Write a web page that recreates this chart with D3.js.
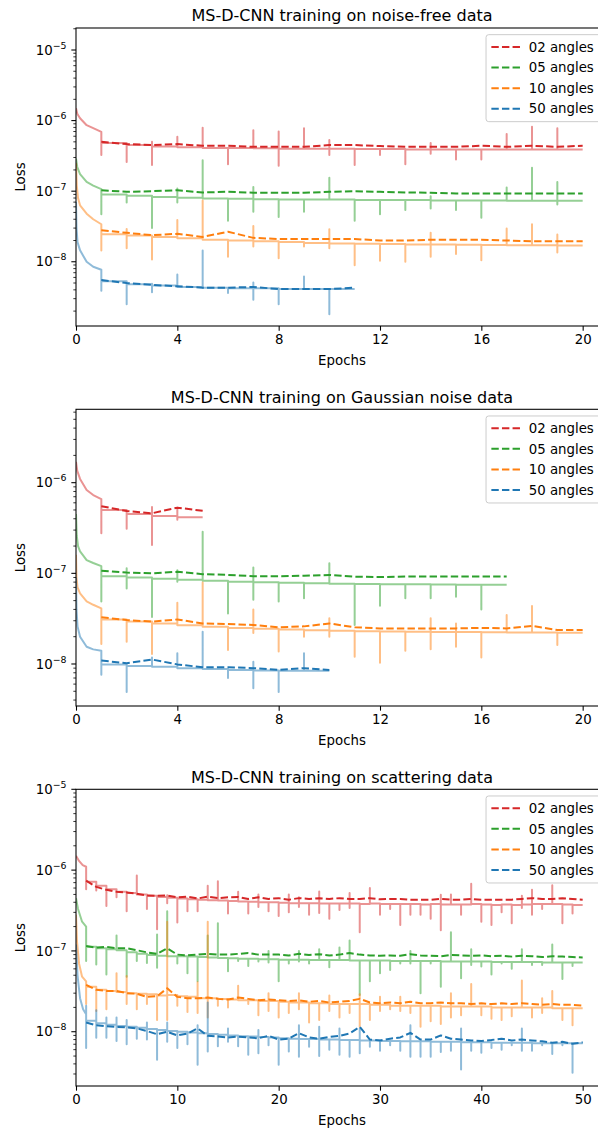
<!DOCTYPE html>
<html>
<head>
<meta charset="utf-8">
<script src="https://cdn.jsdelivr.net/npm/d3@7"></script>
<style>
  body { margin: 0; background: #fff; }
  svg { display: block; font-family: "DejaVu Sans", sans-serif; }
</style>
</head>
<body>
<div id="chart"></div>
<script>
// ============================================
// 데이터
// ============================================
const seriesLabels = ['02 angles', '05 angles', '10 angles', '50 angles'];
const seriesColors = ['#d62728', '#2ca02c', '#ff7f0e', '#1f77b4'];

const panelTitles = [
    'MS-D-CNN training on noise-free data',
    'MS-D-CNN training on Gaussian noise data',
    'MS-D-CNN training on scattering data'
];
const panelXTicks = [[0, 4, 8, 12, 16, 20], [0, 4, 8, 12, 16, 20], [0, 10, 20, 30, 40, 50]];
const panelXMax = [21, 21, 52.5];
const panelYDomain = [[1.23e-9, 2.05e-5], [3.44e-9, 6.45e-6], [2.13e-9, 1e-5]];

// --- noise-free: [red, green, orange, blue]
// decay = 첫 epoch 곡선 [epoch, loss], level = epoch k..k+1 학습 손실, spike = epoch 시작 배치 값, val = 검증 손실
const nfDecay = [
    [[0, 1.5e-6], [0.05, 1.25e-6], [0.16, 1.08e-6], [0.42, 8.6e-7], [0.68, 7.8e-7], [1, 6.9e-7]],
    [[0, 2.9e-7], [0.05, 2.2e-7], [0.16, 1.75e-7], [0.42, 1.35e-7], [0.68, 1.2e-7], [1, 1.07e-7]],
    [[0, 2.5e-7], [0.03, 1.2e-7], [0.08, 8e-8], [0.16, 6.3e-8], [0.42, 4.8e-8], [0.68, 4.0e-8], [1, 3.4e-8]],
    [[0, 7e-8], [0.02, 3e-8], [0.06, 1.9e-8], [0.16, 1.45e-8], [0.42, 1.0e-8], [0.68, 8.5e-9], [1, 7.7e-9]]
];
const nfLevel = [
    [4.8e-7, 4.5e-7, 4.3e-7, 4.2e-7, 4.1e-7, 4.1e-7, 4.05e-7, 4.0e-7, 4.0e-7, 4.0e-7, 3.95e-7, 3.95e-7, 3.9e-7, 3.9e-7, 3.9e-7, 3.9e-7, 3.9e-7, 3.9e-7, 3.9e-7],
    [9.0e-8, 8.6e-8, 8.3e-8, 8.1e-8, 7.9e-8, 7.8e-8, 7.7e-8, 7.6e-8, 7.6e-8, 7.6e-8, 7.5e-8, 7.5e-8, 7.5e-8, 7.4e-8, 7.4e-8, 7.4e-8, 7.3e-8, 7.3e-8, 7.3e-8],
    [2.45e-8, 2.35e-8, 2.25e-8, 2.15e-8, 2.05e-8, 2.0e-8, 1.95e-8, 1.9e-8, 1.85e-8, 1.82e-8, 1.8e-8, 1.78e-8, 1.76e-8, 1.75e-8, 1.74e-8, 1.73e-8, 1.72e-8, 1.72e-8, 1.7e-8],
    [5.3e-9, 4.8e-9, 4.6e-9, 4.4e-9, 4.3e-9, 4.2e-9, 4.2e-9, 4.1e-9, 4.1e-9, 4.1e-9]
];
const nfSpike = [
    [3.25e-7, 2.6e-7, [5.0e-7, 2.35e-7], 5.9e-7, 7.9e-7, 2.4e-7, 7.3e-7, [7.0e-7, 2.3e-7], 7.8e-7, [5.3e-7, 3.25e-7], 2.35e-7, 3.25e-7, 2.4e-7, [4.8e-7, 3.4e-7], 2.8e-7, 2.8e-7, 6.45e-7, 8.2e-7, 7.8e-7],
    [4.7e-8, 6.9e-8, 3.0e-8, [1.09e-7, 6.9e-8], 2.75e-7, 3.8e-8, [1.15e-7, 5.1e-8], 4.3e-8, 5.1e-8, 1.55e-7, 3.8e-8, 4.7e-8, 5.4e-8, [8.5e-8, 5.7e-8], 5.4e-8, 4.2e-8, 1.13e-7, 2.14e-7, [1.35e-7, 6.5e-8]],
    [1.44e-8, [2.9e-8, 1.56e-8], 1.08e-8, 3.9e-8, 7.4e-8, 1.18e-8, [3.2e-8, 1.65e-8], 1.12e-8, 1.65e-8, [2.88e-8, 1.56e-8], 8.9e-9, 1.03e-8, 1.0e-8, [2.57e-8, 1.18e-8], 1.29e-8, 1.05e-8, 2.97e-8, 3.4e-8, [2.43e-8, 1.35e-8]],
    [3.9e-9, 2.5e-9, [4.9e-9, 3.7e-9], 6.6e-9, 1.44e-8, 3.6e-9, [5.1e-9, 2.9e-9], 2.5e-9, 6.2e-9, 1.8e-9]
];
const nfVal = [
    [5.0e-7, 4.65e-7, 4.5e-7, 4.65e-7, 4.4e-7, 4.4e-7, 4.25e-7, 4.25e-7, 4.25e-7, 4.5e-7, 4.5e-7, 4.35e-7, 4.25e-7, 4.25e-7, 4.25e-7, 4.4e-7, 4.25e-7, 4.4e-7, 4.25e-7, 4.4e-7],
    [1.03e-7, 9.8e-8, 1.0e-7, 1.03e-7, 9.6e-8, 9.8e-8, 9.5e-8, 9.5e-8, 9.5e-8, 9.8e-8, 1.0e-7, 9.8e-8, 9.6e-8, 9.5e-8, 9.3e-8, 9.3e-8, 9.3e-8, 9.3e-8, 9.3e-8, 9.3e-8],
    [2.8e-8, 2.57e-8, 2.38e-8, 2.49e-8, 2.25e-8, 2.66e-8, 2.18e-8, 2.1e-8, 2.1e-8, 2.1e-8, 2.1e-8, 2.0e-8, 2.0e-8, 2.05e-8, 2.05e-8, 2.05e-8, 2.0e-8, 1.95e-8, 1.95e-8, 1.95e-8],
    [5.5e-9, 5.0e-9, 4.7e-9, 4.5e-9, 4.3e-9, 4.3e-9, 4.4e-9, 4.1e-9, 4.1e-9, 4.1e-9, 4.3e-9]
];

// --- Gaussian noise
const gnDecay = [
    [[0, 1.7e-6], [0.05, 1.35e-6], [0.16, 1.1e-6], [0.42, 8.3e-7], [0.68, 7.3e-7], [1, 6.6e-7]],
    [[0, 4.5e-7], [0.03, 2.6e-7], [0.08, 2.0e-7], [0.16, 1.75e-7], [0.42, 1.4e-7], [0.68, 1.3e-7], [1, 1.2e-7]],
    [[0, 1.6e-7], [0.02, 9e-8], [0.06, 7e-8], [0.16, 6e-8], [0.42, 4.9e-8], [0.68, 4.5e-8], [1, 4.1e-8]],
    [[0, 9e-8], [0.02, 4e-8], [0.06, 2.6e-8], [0.16, 2.0e-8], [0.42, 1.55e-8], [0.68, 1.45e-8], [1, 1.4e-8]]
];
const gnLevel = [
    [5.0e-7, 4.5e-7, 4.3e-7, 4.15e-7],
    [9.3e-8, 9.0e-8, 8.7e-8, 8.5e-8, 8.3e-8, 8.1e-8, 7.95e-8, 7.85e-8, 7.75e-8, 7.7e-8, 7.65e-8, 7.6e-8, 7.6e-8, 7.55e-8, 7.5e-8, 7.5e-8],
    [3.1e-8, 2.95e-8, 2.8e-8, 2.68e-8, 2.58e-8, 2.5e-8, 2.45e-8, 2.4e-8, 2.36e-8, 2.33e-8, 2.3e-8, 2.28e-8, 2.27e-8, 2.26e-8, 2.25e-8, 2.24e-8, 2.23e-8, 2.22e-8, 2.21e-8],
    [9.9e-9, 9.5e-9, 9.3e-9, 9.0e-9, 8.8e-9, 8.6e-9, 8.5e-9, 8.4e-9, 8.4e-9]
];
const gnSpike = [
    [2.76e-7, 3.1e-7, [5.4e-7, 2.05e-7], [5.3e-7, 3.9e-7]],
    [4.9e-8, [1.14e-7, 6.8e-8], 3.3e-8, [1.08e-7, 8.1e-8], 2.88e-7, 3.6e-8, [1.16e-7, 5.1e-8], 4.9e-8, 5.3e-8, 1.29e-7, 2.7e-8, 4.4e-8, 5.3e-8, 5.3e-8, 5.5e-8, 4.0e-8],
    [1.66e-8, 1.76e-8, 1.29e-8, 4.75e-8, 7.9e-8, 1.43e-8, [4.0e-8, 2.2e-8], 1.37e-8, 2.0e-8, [3.2e-8, 2.0e-8], 1.2e-8, 1.03e-8, 1.4e-8, [3.2e-8, 1.45e-8], [2.8e-8, 1.55e-8], 1.18e-8, 3.47e-8, 4.36e-8, 1.62e-8],
    [7.6e-9, 4.9e-9, 1.18e-8, 1.31e-8, 2.27e-8, 7.0e-9, [1.06e-8, 5.4e-9], 4.9e-9, 1.31e-8]
];
const gnVal = [
    [5.5e-7, 4.87e-7, 4.6e-7, 5.3e-7, 4.9e-7],
    [1.07e-7, 1.02e-7, 1.0e-7, 1.04e-7, 9.8e-8, 9.6e-8, 9.3e-8, 9.3e-8, 9.4e-8, 9.6e-8, 9.2e-8, 9.1e-8, 9.2e-8, 9.2e-8, 9.2e-8, 9.2e-8, 9.2e-8],
    [3.27e-8, 3.06e-8, 2.93e-8, 3.1e-8, 2.8e-8, 2.76e-8, 2.7e-8, 2.54e-8, 2.6e-8, 2.8e-8, 2.54e-8, 2.47e-8, 2.47e-8, 2.47e-8, 2.47e-8, 2.5e-8, 2.47e-8, 2.63e-8, 2.37e-8, 2.37e-8],
    [1.09e-8, 1.02e-8, 1.12e-8, 9.9e-9, 9.2e-9, 9.2e-9, 9.0e-9, 8.6e-9, 9.0e-9, 8.6e-9]
];

// --- scattering
const scDecay = [
    [[0, 1.5e-6], [0.3, 1.3e-6], [0.66, 1.15e-6], [1, 1.1e-6]],
    [[0, 4.5e-7], [0.2, 3.3e-7], [0.6, 2.3e-7], [1, 2.0e-7]],
    [[0, 2.8e-7], [0.1, 1.3e-7], [0.3, 7e-8], [0.6, 4.8e-8], [1, 4.2e-8]],
    [[0, 1.2e-7], [0.15, 5e-8], [0.4, 2.6e-8], [0.7, 1.9e-8], [1, 1.65e-8]]
];
const scLevel = [
    [7.2e-7, 6.4e-7, 5.8e-7, 5.4e-7, 5.2e-7, 5.0e-7, 4.8e-7, 4.65e-7, 4.55e-7, 4.45e-7,
     4.35e-7, 4.3e-7, 4.25e-7, 4.2e-7, 4.15e-7, 4.1e-7, 4.05e-7, 4.0e-7, 4.0e-7, 3.95e-7,
     3.9e-7, 3.9e-7, 3.9e-7, 3.85e-7, 3.85e-7, 3.85e-7, 3.85e-7, 3.8e-7, 3.85e-7, 3.8e-7,
     3.8e-7, 3.8e-7, 3.8e-7, 3.75e-7, 3.8e-7, 3.75e-7, 3.75e-7, 3.75e-7, 3.8e-7, 3.75e-7,
     3.7e-7, 3.75e-7, 3.7e-7, 3.75e-7, 3.8e-7, 3.8e-7, 3.8e-7, 3.75e-7, 3.7e-7],
    [1.13e-7, 1.08e-7, 1.05e-7, 1.02e-7, 9.6e-8, 9.2e-8, 8.9e-8, 8.7e-8, 8.6e-8, 8.6e-8,
     8.5e-8, 8.4e-8, 8.3e-8, 8.2e-8, 8.1e-8, 8.0e-8, 8.0e-8, 7.9e-8, 7.9e-8, 7.8e-8,
     7.8e-8, 7.8e-8, 7.7e-8, 7.7e-8, 7.7e-8, 7.7e-8, 7.6e-8, 7.6e-8, 7.6e-8, 7.6e-8,
     7.5e-8, 7.5e-8, 7.5e-8, 7.5e-8, 7.5e-8, 7.4e-8, 7.4e-8, 7.4e-8, 7.4e-8, 7.4e-8,
     7.3e-8, 7.3e-8, 7.3e-8, 7.3e-8, 7.3e-8, 7.2e-8, 7.2e-8, 7.2e-8, 7.2e-8],
    [3.6e-8, 3.3e-8, 3.2e-8, 3.1e-8, 3.0e-8, 2.95e-8, 2.9e-8, 2.8e-8, 2.85e-8, 2.75e-8,
     2.7e-8, 2.6e-8, 2.6e-8, 2.55e-8, 2.5e-8, 2.45e-8, 2.45e-8, 2.4e-8, 2.4e-8, 2.35e-8,
     2.3e-8, 2.3e-8, 2.25e-8, 2.25e-8, 2.2e-8, 2.2e-8, 2.2e-8, 2.2e-8, 2.15e-8, 2.15e-8,
     2.1e-8, 2.1e-8, 2.1e-8, 2.1e-8, 2.1e-8, 2.05e-8, 2.05e-8, 2.05e-8, 2.05e-8, 2.05e-8,
     2.0e-8, 2.0e-8, 2.0e-8, 2.0e-8, 2.0e-8, 2.0e-8, 1.95e-8, 1.95e-8, 1.95e-8],
    [1.37e-8, 1.27e-8, 1.22e-8, 1.18e-8, 1.15e-8, 1.12e-8, 1.08e-8, 1.05e-8, 1.02e-8, 1.0e-8,
     9.8e-9, 9.6e-9, 9.4e-9, 9.2e-9, 9.0e-9, 8.8e-9, 8.7e-9, 8.6e-9, 8.5e-9, 8.3e-9,
     8.2e-9, 8.1e-9, 8.1e-9, 8.0e-9, 8.0e-9, 7.9e-9, 7.9e-9, 7.8e-9, 7.8e-9, 7.7e-9,
     7.7e-9, 7.6e-9, 7.6e-9, 7.6e-9, 7.5e-9, 7.5e-9, 7.5e-9, 7.4e-9, 7.4e-9, 7.4e-9,
     7.3e-9, 7.3e-9, 7.3e-9, 7.3e-9, 7.2e-9, 7.2e-9, 7.2e-9, 7.2e-9, 7.2e-9]
];
const scSpike = [
    [5.8e-7, 5.6e-7, 3.6e-7, 4.6e-7, 3.1e-7, 8.6e-7, 3.3e-7, 1.85e-7, [4.9e-7, 3.9e-7], 2.25e-7,
     3.1e-7, 3.1e-7, 6.4e-7, 7.3e-7, 2.9e-7, 5.4e-7, 2.9e-7, [5.0e-7, 3.5e-7], 3.1e-7, 2.7e-7,
     [5.0e-7, 3.0e-7], [4.6e-7, 3.5e-7], 2.8e-7, [5.45e-7, 2.95e-7], 2.5e-7, 3.2e-7, [5.2e-7, 3.4e-7], 1.7e-7, 6.0e-7, 2.8e-7,
     3.3e-7, 2.1e-7, 2.8e-7, 2.8e-7, 2.5e-7, [4.95e-7, 1.8e-7], 5.0e-7, 2.8e-7, 6.8e-7, 2.3e-7,
     2.1e-7, 3.0e-7, 2.2e-7, [4.8e-7, 3.4e-7], [5.7e-7, 2.8e-7], 3.3e-7, 6.5e-7, 2.2e-7, 2.9e-7],
    [7.5e-8, 6.8e-8, 5.1e-8, 1.55e-7, 4.8e-8, 7.5e-8, 7.1e-8, [1.6e-7, 6.2e-8], 3.1e-7, 7.0e-8,
     5.3e-8, 4.2e-8, 1.55e-7, 2.2e-7, 5.6e-8, 7.5e-8, 6.5e-8, 7.4e-8, [1.0e-7, 7.2e-8], 4.2e-8,
     7.0e-8, [1.0e-7, 7.4e-8], 7.0e-8, 1.05e-7, 6.3e-8, 1.1e-7, 1.35e-7, 2.85e-8, 4.2e-8, 5.3e-8,
     5.8e-8, 7.0e-8, [1.0e-7, 7.0e-8], 3.0e-8, 7.0e-8, 3.6e-8, 1.7e-7, 4.6e-8, [1.05e-7, 6.7e-8], 6.4e-8,
     5.1e-8, 7.0e-8, 6.0e-8, 1.05e-7, 6.7e-8, 6.7e-8, 1.2e-7, 4.5e-8, 6.5e-8],
    [2.2e-8, 1.8e-8, 1.9e-8, 5.3e-8, [4.9e-8, 2.2e-8], 1.9e-8, 2.2e-8, 1.4e-8, [2.3e-7, 1.4e-8], 2.1e-8,
     1.75e-8, [4.1e-8, 1.7e-8], [2.3e-7, 1.5e-8], 2.1e-8, 2.0e-8, 3.7e-8, 2.2e-8, 1.6e-8, [3.0e-8, 1.8e-8], 1.5e-8,
     1.7e-8, [3.0e-8, 1.9e-8], 1.3e-8, 1.4e-8, [2.8e-8, 1.8e-8], 1.5e-8, 1.7e-8, [2.9e-8, 1.15e-8], 1.4e-8, [2.7e-8, 1.8e-8],
     1.9e-8, [2.7e-8, 1.8e-8], 1.7e-8, 1.15e-8, 1.35e-8, 1.25e-8, [3.0e-8, 1.5e-8], 1.6e-8, 3.9e-8, 1.6e-8,
     1.45e-8, 1.4e-8, 1.55e-8, 4.3e-8, 1.5e-8, [2.6e-8, 1.7e-8], 3.2e-8, 1.4e-8, 1.2e-8],
    [[2.1e-8, 6.3e-9], [1.85e-8, 8.4e-9], [1.5e-8, 8.4e-9], [1.5e-8, 7.7e-9], [1.4e-8, 7.0e-9], 8.2e-9, [1.3e-8, 8.0e-9], 4.5e-9, [1.3e-8, 7.5e-9], 6.3e-9,
     7.0e-9, [1.2e-8, 3.9e-9], [2.3e-8, 5.7e-9], 6.6e-9, [1.1e-8, 7.5e-9], 6.6e-9, 5.2e-9, [1.05e-8, 5.4e-9], 6.8e-9, 3.9e-9,
     5.7e-9, [1.2e-8, 4.9e-9], 6.5e-9, [1.15e-8, 5.0e-9], 6.0e-9, [1.1e-8, 5.2e-9], 4.9e-9, [1.1e-8, 5.4e-9], 6.5e-9, 5.8e-9,
     6.8e-9, 5.8e-9, [1.2e-8, 4.9e-9], 4.9e-9, 4.9e-9, 5.6e-9, 5.8e-9, [1.1e-8, 3.4e-9], 5.8e-9, 5.5e-9,
     6.3e-9, 6.0e-9, 6.8e-9, [1.1e-8, 5.8e-9], 5.8e-9, 6.8e-9, 5.3e-9, 6.8e-9, 3.1e-9]
];
const scVal = [
    [7.4e-7, 6.2e-7, 5.7e-7, 5.4e-7, 5.3e-7, 5.1e-7, 4.85e-7, 4.8e-7, 4.85e-7, 4.6e-7,
     4.7e-7, 4.45e-7, 4.7e-7, 4.5e-7, 4.6e-7, 4.65e-7, 4.4e-7, 4.6e-7, 4.4e-7, 4.5e-7,
     4.3e-7, 4.5e-7, 4.4e-7, 4.5e-7, 4.4e-7, 4.5e-7, 4.4e-7, 4.4e-7, 4.5e-7, 4.35e-7,
     4.4e-7, 4.4e-7, 4.3e-7, 4.3e-7, 4.3e-7, 4.4e-7, 4.3e-7, 4.3e-7, 4.4e-7, 4.3e-7,
     4.3e-7, 4.3e-7, 4.3e-7, 4.4e-7, 4.5e-7, 4.4e-7, 4.4e-7, 4.5e-7, 4.4e-7, 4.3e-7],
    [1.15e-7, 1.1e-7, 1.12e-7, 1.08e-7, 1.08e-7, 1.02e-7, 9.6e-8, 9.2e-8, 1.08e-7, 9.0e-8,
     8.8e-8, 9.0e-8, 9.2e-8, 9.0e-8, 9.0e-8, 9.2e-8, 9.4e-8, 9.0e-8, 9.0e-8, 9.0e-8,
     8.8e-8, 9.2e-8, 8.9e-8, 9.1e-8, 8.8e-8, 9.0e-8, 9.4e-8, 9.0e-8, 8.8e-8, 8.7e-8,
     8.8e-8, 8.7e-8, 9.1e-8, 8.8e-8, 8.7e-8, 8.6e-8, 8.9e-8, 8.8e-8, 8.7e-8, 8.8e-8,
     8.6e-8, 8.7e-8, 8.5e-8, 8.7e-8, 8.6e-8, 8.4e-8, 8.6e-8, 8.5e-8, 8.4e-8, 8.3e-8],
    [3.8e-8, 3.3e-8, 3.2e-8, 3.2e-8, 3.0e-8, 2.95e-8, 2.7e-8, 2.75e-8, 3.45e-8, 2.7e-8,
     2.6e-8, 2.6e-8, 2.65e-8, 2.55e-8, 2.5e-8, 2.65e-8, 2.55e-8, 2.45e-8, 2.5e-8, 2.45e-8,
     2.4e-8, 2.45e-8, 2.35e-8, 2.4e-8, 2.3e-8, 2.35e-8, 2.4e-8, 2.55e-8, 2.3e-8, 2.25e-8,
     2.3e-8, 2.25e-8, 2.35e-8, 2.25e-8, 2.25e-8, 2.3e-8, 2.25e-8, 2.25e-8, 2.2e-8, 2.25e-8,
     2.2e-8, 2.25e-8, 2.2e-8, 2.25e-8, 2.2e-8, 2.15e-8, 2.2e-8, 2.15e-8, 2.15e-8, 2.1e-8],
    [1.3e-8, 1.2e-8, 1.17e-8, 1.15e-8, 1.13e-8, 1.1e-8, 1.02e-8, 9.3e-9, 1.0e-8, 9.0e-9,
     9.5e-9, 1.1e-8, 8.9e-9, 8.7e-9, 8.5e-9, 8.7e-9, 8.5e-9, 8.3e-9, 8.9e-9, 8.0e-9,
     8.2e-9, 9.6e-9, 8.5e-9, 8.2e-9, 8.6e-9, 8.9e-9, 9.5e-9, 1.15e-8, 8.0e-9, 7.8e-9,
     8.2e-9, 8.5e-9, 9.7e-9, 8.0e-9, 8.0e-9, 9.0e-9, 8.2e-9, 8.0e-9, 7.8e-9, 7.7e-9,
     7.9e-9, 8.2e-9, 7.8e-9, 8.0e-9, 7.8e-9, 7.6e-9, 7.3e-9, 7.5e-9, 7.1e-9, 7.4e-9]
];

// ============================================
// 레이아웃
// ============================================
const W = 598, H = 1133;
const axLeft = 76, axRight = 608;
const panelTop = [28, 409.3, 789.3];
const panelBottom = [326, 706, 1086];
const FS = 13.33;          // 틱/레이블/범례 글자 크기
const LW = 2;              // 선 두께
const DASH = '7.4,3.2';

const panels = [
    { decay: nfDecay, level: nfLevel, spike: nfSpike, val: nfVal },
    { decay: gnDecay, level: gnLevel, spike: gnSpike, val: gnVal },
    { decay: scDecay, level: scLevel, spike: scSpike, val: scVal }
];

// 학습 곡선 점: 첫 epoch 곡선 + 각 epoch 시작 스파이크 + epoch 구간 값
function trainPoints(decay, level, spike) {
    const pts = decay.map(d => [d[0], d[1]]);
    level.forEach((lv, i) => {
        const k = i + 1;
        const s = spike[i];
        if (s != null) [].concat(s).forEach(v => pts.push([k, v]));
        pts.push([k, lv], [k + 1, lv]);
    });
    return pts;
}

const svg = d3.select('#chart')
    .append('svg')
    .attr('width', W)
    .attr('height', H)
    .style('background', 'white');

panels.forEach((p, pi) => {
    const top = panelTop[pi], bottom = panelBottom[pi];
    const x = d3.scaleLinear().domain([0, panelXMax[pi]]).range([axLeft, axRight]);
    const y = d3.scaleLog().domain(panelYDomain[pi]).range([bottom, top]);
    const g = svg.append('g');

    // 클립
    const clipId = 'clip' + pi;
    svg.append('clipPath').attr('id', clipId)
        .append('rect')
        .attr('x', axLeft).attr('y', top)
        .attr('width', axRight - axLeft).attr('height', bottom - top);

    const line = d3.line()
        .x(d => x(d[0]))
        .y(d => y(d[1]));

    const plot = g.append('g').attr('clip-path', `url(#${clipId})`);

    seriesColors.forEach((c, si) => {
        // 학습 손실 (연한 실선)
        plot.append('path')
            .datum(trainPoints(p.decay[si], p.level[si], p.spike[si]))
            .attr('fill', 'none')
            .attr('stroke', c)
            .attr('stroke-opacity', 0.5)
            .attr('stroke-width', LW)
            .attr('stroke-linejoin', 'round')
            .attr('d', line);

        // 검증 손실 (점선)
        plot.append('path')
            .datum(p.val[si].map((v, i) => [i + 1, v]))
            .attr('fill', 'none')
            .attr('stroke', c)
            .attr('stroke-width', LW)
            .attr('stroke-dasharray', DASH)
            .attr('stroke-linejoin', 'round')
            .attr('d', line);
    });

    // X축
    const xAxis = g.append('g')
        .attr('transform', `translate(0,${bottom})`)
        .call(d3.axisBottom(x)
            .tickValues(panelXTicks[pi])
            .tickSize(4.67)
            .tickPadding(4.2)
            .tickSizeOuter(0));
    xAxis.select('.domain').remove();
    xAxis.selectAll('line').attr('stroke', '#000').attr('stroke-width', 1.07);
    xAxis.selectAll('text')
        .attr('fill', '#000')
        .style('font-size', FS + 'px')
        .style('font-family', '"DejaVu Sans", sans-serif');

    // Y축 (로그) - 주 눈금 + 보조 눈금
    const [y0, y1] = panelYDomain[pi];
    const majors = [], minors = [];
    for (let e = Math.floor(Math.log10(y0)); e <= Math.ceil(Math.log10(y1)); e++) {
        for (let m = 1; m <= 9; m++) {
            const v = m * Math.pow(10, e);
            if (v < y0 || v > y1) continue;
            (m === 1 ? majors : minors).push(v);
        }
    }
    const yAxis = g.append('g');
    yAxis.selectAll('.minor').data(minors).enter().append('line')
        .attr('x1', axLeft - 2.67).attr('x2', axLeft)
        .attr('y1', d => y(d)).attr('y2', d => y(d))
        .attr('stroke', '#000').attr('stroke-width', 0.8);
    yAxis.selectAll('.major').data(majors).enter().append('line')
        .attr('x1', axLeft - 4.67).attr('x2', axLeft)
        .attr('y1', d => y(d)).attr('y2', d => y(d))
        .attr('stroke', '#000').attr('stroke-width', 1.07);
    const lbl = yAxis.selectAll('.lbl').data(majors).enter().append('text')
        .attr('x', axLeft - 9.5)
        .attr('y', d => y(d) + 4.6)
        .attr('text-anchor', 'end')
        .attr('fill', '#000')
        .style('font-size', FS + 'px');
    lbl.append('tspan').text('10');
    lbl.append('tspan')
        .attr('dy', -6)
        .style('font-size', '9.4px')
        .text(d => '\u2212' + Math.abs(Math.round(Math.log10(d))));

    // 축 테두리
    g.append('rect')
        .attr('x', axLeft).attr('y', top)
        .attr('width', axRight - axLeft).attr('height', bottom - top)
        .attr('fill', 'none')
        .attr('stroke', '#000')
        .attr('stroke-width', 1.07);

    // 제목
    g.append('text')
        .attr('x', (axLeft + axRight) / 2)
        .attr('y', top - 6.6)
        .attr('text-anchor', 'middle')
        .attr('fill', '#000')
        .style('font-size', '16px')
        .text(panelTitles[pi]);

    // 축 레이블
    g.append('text')
        .attr('x', (axLeft + axRight) / 2)
        .attr('y', bottom + 39.3)
        .attr('text-anchor', 'middle')
        .attr('fill', '#000')
        .style('font-size', FS + 'px')
        .text('Epochs');
    const cy = (top + bottom) / 2;
    g.append('text')
        .attr('transform', `translate(25,${cy}) rotate(-90)`)
        .attr('text-anchor', 'middle')
        .attr('fill', '#000')
        .style('font-size', FS + 'px')
        .text('Loss');

    // 범례
    const legend = g.append('g');
    const box = legend.append('rect');
    const rowH = 20.6;
    const texts = [];
    seriesLabels.forEach((lab, i) => {
        const t = legend.append('text')
            .attr('y', i * rowH + 4.7)
            .attr('fill', '#000')
            .style('font-size', FS + 'px')
            .text(lab);
        texts.push(t);
    });
    const textW = d3.max(texts, t => t.node().getComputedTextLength());
    const boxW = 5.33 + 26.67 + 10.67 + textW + 7.5;
    const boxH = 87;
    const bx = axRight - 6.67 - boxW;
    const by = top + 6.67;
    legend.attr('transform', `translate(${bx},${by})`);
    box.attr('x', 0).attr('y', 0)
        .attr('width', boxW).attr('height', boxH)
        .attr('rx', 2.7)
        .attr('fill', 'white').attr('fill-opacity', 0.8)
        .attr('stroke', '#cccccc').attr('stroke-width', 1);
    texts.forEach((t, i) => {
        t.attr('x', 5.33 + 26.67 + 10.67).attr('y', 12.3 + i * rowH + 4.7);
        legend.append('line')
            .attr('x1', 5.33).attr('x2', 5.33 + 28.6)
            .attr('y1', 12.3 + i * rowH).attr('y2', 12.3 + i * rowH)
            .attr('stroke', seriesColors[i])
            .attr('stroke-width', LW)
            .attr('stroke-dasharray', DASH);
    });
});
</script>
</body>
</html>
